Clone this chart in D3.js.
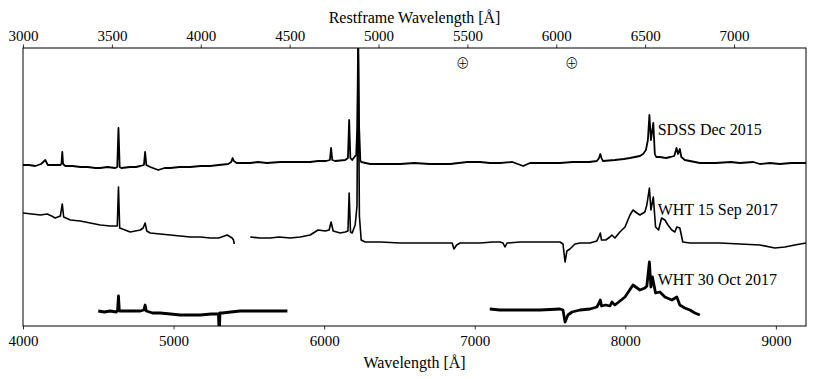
<!DOCTYPE html>
<html lang="en">
<head>
<meta charset="UTF-8">
<title>Spectra</title>
<style>
  body { margin: 0; background: #fff; }
  text { fill: #000; }
</style>
</head>
<body>
<script src="https://d3js.org/d3.v7.min.js"></script>
<div id="chart"></div>
<script>

// observed wavelengths [A] and flux (arbitrary units), null = gap
var sdssWave = [4000,4040,4082,4120,4148,4165,4214,4250,4256,4261,4266,4281,4330,4380,4430,4480,4513,4560,4613,4626,4634,4642,4653,4712,4750,4779,4803,4811,4819,4845,4898,4940,4978,5040,5110,5180,5243,5300,5363,5383,5392,5400,5419,5460,5509,5560,5620,5708,5800,5907,5960,6013,6038,6046,6054,6073,6140,6158,6166,6174,6186,6206,6213,6220,6226,6232,6240,6246,6305,6400,6505,6600,6700,6837,6950,7036,7100,7168,7250,7322,7367,7450,7566,7650,7699,7760,7811,7826,7834,7842,7851,7931,7990,8031,8097,8118,8137,8150,8160,8170,8186,8196,8205,8230,8270,8300,8325,8340,8350,8362,8372,8395,8429,8495,8600,8700,8761,8850,8894,8960,9027,9100,9160,9200];
var sdssFlux = [1.1,1.1,1.0,1.2,1.6,1.1,1.1,1.1,1.3,2.4,1.2,1.0,1.0,0.9,0.9,0.8,0.8,0.9,0.8,0.9,4.8,0.9,0.8,0.9,0.9,1.0,1.1,2.4,1.1,0.9,0.6,0.8,0.8,0.9,0.9,1.0,1.0,1.1,1.2,1.4,1.8,1.5,1.3,1.3,1.3,1.4,1.3,1.4,1.4,1.4,1.5,1.5,1.6,2.8,1.6,1.5,1.6,1.8,5.6,1.8,1.6,2.0,2.1,5.0,14,5.0,1.6,1.4,1.2,1.2,1.2,1.3,1.2,1.2,1.4,1.4,1.3,1.3,1.4,1.0,1.3,1.3,1.3,1.4,1.4,1.4,1.5,1.8,2.2,1.8,1.5,1.6,1.7,1.8,2.0,2.2,2.6,3.6,6.1,3.6,5.3,2.2,1.9,1.9,1.8,1.9,2.0,2.8,2.2,2.7,1.9,1.6,1.5,1.3,1.3,1.4,1.3,1.4,1.2,1.3,1.2,1.3,1.3,1.3];

var sepWave = [4000,4060,4115,4161,4190,4214,4248,4261,4270,4314,4380,4447,4513,4580,4626,4634,4642,4660,4712,4779,4798,4811,4822,4845,4911,4978,5044,5110,5177,5243,5300,5356,5389,5398,5403,null,5509,5575,5642,5700,5774,5841,5907,5960,6007,6033,6046,6060,6106,6140,6158,6166,6175,6186,6206,6218,6226,6234,6246,6272,6372,6505,6600,6704,6800,6850,6862,6880,6903,7036,7120,7168,7188,7201,7215,7300,7434,7520,7566,7586,7600,7612,7632,7666,7699,7765,7811,7826,7834,7842,7870,7898,7911,7931,7964,7998,8031,8051,8077,8097,8130,8143,8160,8170,8186,8201,8221,8241,8263,8283,8309,8329,8342,8362,8382,8429,8495,8628,8761,8894,8993,9060,9126,9200];
var sepFlux = [4.3,4.2,4.1,4.2,4.0,3.8,4.0,5.2,3.9,3.6,3.5,3.3,3.1,3.0,3.0,6.9,2.8,2.7,2.4,2.6,2.8,3.3,2.5,2.3,2.2,2.1,2.0,1.9,1.9,1.8,1.8,2.1,1.8,1.6,1.2,null,1.9,1.8,1.8,1.9,1.8,1.9,2.1,2.6,2.5,2.6,3.4,2.5,2.3,2.4,2.5,6.3,2.4,2.3,3.1,5.0,22,4.0,1.6,1.4,1.4,1.3,1.3,1.3,1.3,1.3,0.7,1.1,1.3,1.3,1.4,1.4,1.3,0.9,1.3,1.4,1.4,1.4,1.4,1.2,-0.6,0.5,0.7,1.2,1.3,1.3,1.5,2.0,2.3,1.6,1.6,1.9,2.1,1.8,2.4,2.9,4.1,4.6,4.3,4.1,4.4,5.1,6.8,4.6,5.9,2.9,2.6,3.8,3.6,3.1,2.6,2.4,2.9,2.8,1.4,1.3,1.3,1.3,1.2,1.1,0.8,0.9,1.1,1.3];

var octWave = [4500,4540,4580,4620,4628,4634,4640,4712,4779,4803,4811,4819,4860,4911,4980,5044,5110,5177,5250,5298,5303,5308,5323,5380,5442,5500,5575,5640,5708,5756,null,7100,7168,7301,7434,7566,7586,7600,7619,7646,7699,7765,7811,7826,7834,7842,7870,7898,7911,7931,7998,8051,8097,8130,8143,8160,8170,8180,8201,8230,8263,8309,8342,8362,8395,8429,8462,8495];
var octFlux = [1.5,1.4,1.5,1.4,1.6,3.0,1.5,1.5,1.5,1.6,2.1,1.5,1.3,1.3,1.2,1.1,1.1,1.1,1.2,1.2,-1,1.3,1.3,1.4,1.5,1.5,1.5,1.5,1.5,1.5,null,1.7,1.6,1.6,1.6,1.7,1.6,0.4,1.1,1.4,1.6,1.7,1.9,2.3,2.6,2.0,2.1,2.0,2.4,2.1,2.9,4.1,3.6,3.8,4.0,6.4,3.9,4.9,3.3,3.4,2.9,2.6,2.9,2.1,1.8,1.6,1.3,1.1];

var spectrumNames = ["SDSS Dec 2015", "WHT 15 Sep 2017", "WHT 30 Oct 2017"];
var spectrumOffsets = [15, 7, 0];

var obsTicks = [4000, 5000, 6000, 7000, 8000, 9000];
var restTicks = [3000, 3500, 4000, 4500, 5000, 5500, 6000, 6500, 7000];
var telluricWave = [6920, 7645];

var serif = "'Liberation Serif', 'Times New Roman', serif";

var margin = {top: 48, right: 11, bottom: 53, left: 23},
    width = 817 - margin.left - margin.right,
    height = 379 - margin.top - margin.bottom;

var svg = d3.select("#chart")
  .append("svg")
    .attr("width", 817)
    .attr("height", 379)
  .append("g")
    .attr("transform", "translate(" + margin.left + "," + margin.top + ")");

var x = d3.scaleLinear().domain([4000, 9200]).range([0, width]);
var xRest = d3.scaleLinear().domain([3000, 7405]).range([0, width]);
var y = d3.scaleLinear().domain([0, 27.8]).range([height, 0]);

svg.append("clipPath").attr("id", "plotclip")
  .append("rect").attr("width", width).attr("height", height);

// spectra
var spectra = [
  {wave: sdssWave, flux: sdssFlux, w: 1.8},
  {wave: sepWave, flux: sepFlux, w: 1.6},
  {wave: octWave, flux: octFlux, w: 2.8}
];

spectra.forEach(function(s, i) {
  var pts = s.wave.map(function(l, k) { return [l, s.flux[k]]; });
  var line = d3.line()
    .defined(function(d) { return d[0] != null && d[1] != null; })
    .x(function(d) { return x(d[0]); })
    .y(function(d) { return y(d[1] + spectrumOffsets[i]); });
  svg.append("path")
    .datum(pts)
    .attr("clip-path", "url(#plotclip)")
    .attr("fill", "none")
    .attr("stroke", "#000")
    .attr("stroke-width", s.w)
    .attr("stroke-linejoin", "round")
    .attr("d", line);

  svg.append("text")
    .attr("x", x(8215))
    .attr("y", y(spectrumOffsets[i] + 4.7))
    .attr("dominant-baseline", "central")
    .style("font-family", serif)
    .style("font-size", "16px")
    .text(spectrumNames[i]);
});

// telluric markers
svg.selectAll(".tell")
  .data(telluricWave)
  .enter().append("text")
    .attr("x", function(d) { return x(d); })
    .attr("y", 14)
    .attr("text-anchor", "middle")
    .attr("dominant-baseline", "central")
    .style("font-family", "'Noto Sans CJK JP'")
    .style("font-weight", "300")
    .style("font-size", "14px")
    .text("\u2295");

// axes
var bottomAxis = svg.append("g")
  .attr("transform", "translate(0," + height + ")")
  .call(d3.axisBottom(x).tickValues(obsTicks).tickSize(3.5).tickPadding(6).tickFormat(d3.format("d")));
var topAxis = svg.append("g")
  .call(d3.axisTop(xRest).tickValues(restTicks).tickSize(3.5).tickPadding(4).tickFormat(d3.format("d")));

[bottomAxis, topAxis].forEach(function(a) {
  a.attr("font-family", null);
  a.selectAll("text").style("font-size", "15px").style("font-family", serif);
  a.select(".domain").remove();
  a.selectAll("line").attr("stroke", "#000").attr("stroke-width", 0.8);
});

// frame
svg.append("rect")
  .attr("width", width)
  .attr("height", height)
  .attr("fill", "none")
  .attr("stroke", "#000")
  .attr("stroke-width", 1);

svg.append("text")
  .attr("x", width / 2)
  .attr("y", height + 36)
  .attr("text-anchor", "middle")
  .attr("dominant-baseline", "central")
  .style("font-family", serif)
  .style("font-size", "16px")
  .text("Wavelength [\u00C5]");

svg.append("text")
  .attr("x", width / 2)
  .attr("y", -31)
  .attr("text-anchor", "middle")
  .attr("dominant-baseline", "central")
  .style("font-family", serif)
  .style("font-size", "16px")
  .text("Restframe Wavelength [\u00C5]");

</script>
</body>
</html>
